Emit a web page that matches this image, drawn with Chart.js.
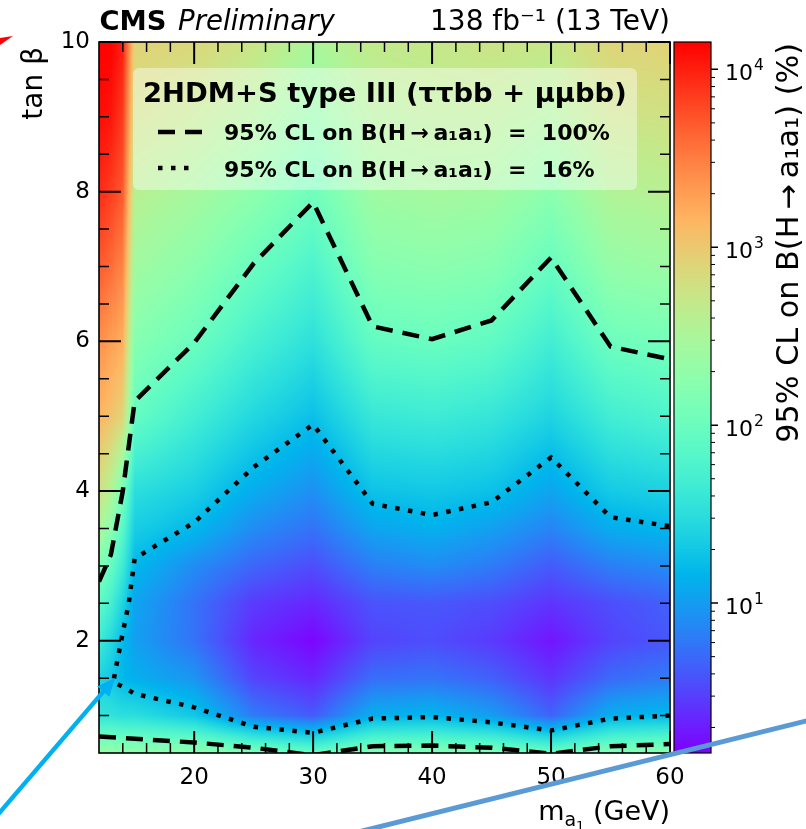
<!DOCTYPE html>
<html><head><meta charset="utf-8">
<script src="https://cdn.jsdelivr.net/npm/chart.js@4/dist/chart.umd.min.js"></script>
<style>html,body{margin:0;padding:0;background:#fff;overflow:hidden}canvas{display:block}</style>
</head><body>
<canvas id="c" width="806" height="829"></canvas>
<script>
// ---------------- data ----------------
const massGrid = [12, 13, 14, 15, 20, 25, 30, 35, 40, 45, 50, 55, 60];           // m_a1 (GeV)
const tanbGrid = [0.5, 1, 1.5, 2, 2.5, 3, 3.5, 4, 5, 6, 7, 8, 9, 10];            // tan beta
// log10 of the 95% CL limit on B(H->a1a1) in %, one array per mass column (rows follow tanbGrid)
const log10Lim_m12 = [2.35, 1.55, 1.40, 1.65, 1.90, 2.20, 2.50, 2.80, 3.15, 3.40, 3.70, 3.95, 4.10, 4.15];
const log10Lim_m13 = [2.33, 1.55, 1.30, 1.45, 1.70, 1.95, 2.25, 2.55, 3.05, 3.30, 3.60, 3.85, 4.05, 4.15];
const log10Lim_m14 = [2.32, 1.50, 1.18, 1.19, 1.40, 1.65, 1.85, 2.10, 2.90, 3.20, 3.45, 3.70, 3.85, 4.00];
const log10Lim_m15 = [2.30, 1.50, 1.12, 1.02, 1.05, 1.18, 1.35, 1.50, 1.95, 2.20, 2.42, 2.60, 2.78, 2.92];
const log10Lim_m20 = [2.30, 1.30, 0.95, 0.75, 0.75, 0.90, 1.18, 1.36, 1.68, 2.00, 2.24, 2.46, 2.68, 2.88];
const log10Lim_m25 = [2.15, 0.80, 0.50, 0.35, 0.45, 0.68, 0.90, 1.10, 1.43, 1.72, 1.99, 2.27, 2.52, 2.75];
const log10Lim_m30 = [1.98, 0.62, 0.35, 0.18, 0.35, 0.55, 0.75, 0.92, 1.24, 1.52, 1.77, 2.04, 2.28, 2.50];
const log10Lim_m35 = [2.20, 1.12, 0.72, 0.50, 0.58, 0.82, 1.05, 1.26, 1.60, 1.94, 2.20, 2.40, 2.55, 2.68];
const log10Lim_m40 = [2.20, 1.17, 0.75, 0.55, 0.60, 0.90, 1.13, 1.30, 1.65, 1.99, 2.25, 2.45, 2.60, 2.70];
const log10Lim_m45 = [2.15, 1.00, 0.65, 0.45, 0.55, 0.80, 1.02, 1.25, 1.58, 1.92, 2.20, 2.42, 2.60, 2.75];
const log10Lim_m50 = [2.00, 0.67, 0.42, 0.26, 0.42, 0.62, 0.85, 1.05, 1.40, 1.68, 1.97, 2.25, 2.50, 2.72];
const log10Lim_m55 = [2.20, 1.12, 0.70, 0.50, 0.55, 0.82, 1.10, 1.32, 1.68, 2.02, 2.32, 2.55, 2.75, 2.90];
const log10Lim_m60 = [2.25, 1.20, 0.80, 0.60, 0.65, 0.90, 1.18, 1.38, 1.78, 2.08, 2.38, 2.60, 2.78, 2.92];

// contour: 95% CL on B = 100% (dashed), two branches
const c100hi_x = [12, 13, 14, 15, 20, 25, 30, 35, 40, 45, 50, 55, 60];
const c100hi_y = [2.79, 3.15, 4.00, 5.20, 5.98, 7.04, 7.86, 6.20, 6.03, 6.28, 7.12, 5.93, 5.76];
const c100lo_x = [12, 15, 20, 25, 30, 35, 40, 45, 50, 55, 60];
const c100lo_y = [0.72, 0.69, 0.64, 0.57, 0.47, 0.59, 0.60, 0.57, 0.49, 0.59, 0.62];
// contour: 95% CL on B = 16% (dotted)
const c16_x = [60, 55, 50, 45, 40, 35, 30, 25, 20, 15, 14.3, 13.2, 13.8, 14.5, 15, 20, 25, 30, 35, 40, 45, 50, 55, 60];
const c16_y = [1.00, 0.96, 0.80, 0.91, 0.98, 0.96, 0.77, 0.85, 1.11, 1.29, 1.36, 1.45, 1.95, 2.50, 3.10, 3.58, 4.32, 4.89, 3.83, 3.68, 3.85, 4.45, 3.65, 3.53];

const xTicks = [20, 30, 40, 50, 60];
const xMinorTicks = [14, 16, 18, 22, 24, 26, 28, 32, 34, 36, 38, 42, 44, 46, 48, 52, 54, 56, 58];
const yTicks = [2, 4, 6, 8, 10];
const yMinorTicks = [1, 1.5, 2.5, 3, 3.5, 4.5, 5, 5.5, 6.5, 7, 7.5, 8.5, 9, 9.5];
const cbTicks = [10, 100, 1000, 10000];
const cbExponents = ['1', '2', '3', '4'];
const cbMin = 1.437, cbMax = 14240;

const legendTitle = '2HDM+S type III (\u03c4\u03c4bb + \u03bc\u03bcbb)';
const legendEntries = ['95% CL on B(H\u2009\u2192\u2009a\u2081a\u2081)  =  100%', '95% CL on B(H\u2009\u2192\u2009a\u2081a\u2081)  =  16%'];

// ---------------- helpers ----------------
const FONT = "'DejaVu Sans', sans-serif";
const limCols = [log10Lim_m12, log10Lim_m13, log10Lim_m14, log10Lim_m15, log10Lim_m20, log10Lim_m25,
  log10Lim_m30, log10Lim_m35, log10Lim_m40, log10Lim_m45, log10Lim_m50, log10Lim_m55, log10Lim_m60];
const pts = (xs, ys) => xs.map((v, i) => ({x: v, y: ys[i]}));
function rainbow(t) {
  t = Math.max(0, Math.min(1, t));
  return [Math.min(1, Math.abs(2 * t - 0.5)) * 255, Math.sin(Math.PI * t) * 255, Math.cos(Math.PI * t / 2) * 255];
}
function segIdx(arr, v) {
  let k = 0;
  while (k < arr.length - 2 && v > arr[k + 1]) k++;
  return k;
}
const noPad = s => { s.paddingTop = 0; s.paddingBottom = 0; s.paddingLeft = 0; s.paddingRight = 0; };

// heat map drawn through the x / y scales, coloured through the colour-bar scale
const heatmapPlugin = {
  id: 'heatmap',
  beforeDatasetsDraw(chart) {
    const {ctx, chartArea: a, scales: {x, y, cb}} = chart;
    const L = Math.round(a.left), T = Math.round(a.top);
    const W = Math.round(a.right) - L, H = Math.round(a.bottom) - T;
    const off = document.createElement('canvas'); off.width = W; off.height = H;
    const octx = off.getContext('2d');
    const img = octx.createImageData(W, H);
    const xi = [], xf = [];
    for (let i = 0; i < W; i++) {
      const v = x.getValueForPixel(L + i + 0.5);
      const k = segIdx(massGrid, v);
      xi.push(k); xf.push(Math.max(0, Math.min(1, (v - massGrid[k]) / (massGrid[k + 1] - massGrid[k]))));
    }
    const span = cb.bottom - cb.top;
    for (let j = 0; j < H; j++) {
      const v = y.getValueForPixel(T + j + 0.5);
      const k = segIdx(tanbGrid, v);
      const f = Math.max(0, Math.min(1, (v - tanbGrid[k]) / (tanbGrid[k + 1] - tanbGrid[k])));
      for (let i = 0; i < W; i++) {
        const c0 = limCols[xi[i]], c1 = limCols[xi[i] + 1], g = xf[i];
        const a0 = c0[k] * (1 - g) + c1[k] * g;
        const a1 = c0[k + 1] * (1 - g) + c1[k + 1] * g;
        const lv = a0 * (1 - f) + a1 * f;
        const t = (cb.bottom - cb.getPixelForValue(Math.pow(10, lv))) / span;
        const c = rainbow(t);
        const p = (j * W + i) * 4;
        img.data[p] = c[0]; img.data[p + 1] = c[1]; img.data[p + 2] = c[2]; img.data[p + 3] = 255;
      }
    }
    octx.putImageData(img, 0, 0);
    ctx.drawImage(off, L, T);
  }
};

function fitFont(ctx, text, weight, style, targetW) {
  ctx.font = `${style} ${weight} 100px ${FONT}`;
  return 100 * targetW / ctx.measureText(text).width;
}

const decorPlugin = {
  id: 'decor',
  afterDatasetsDraw(chart) {
    const {ctx, chartArea: a, scales: {x, y}} = chart;
    ctx.save();
    ctx.strokeStyle = '#000';
    const tick = (len, lw, vals, axis) => {
      ctx.lineWidth = lw;
      ctx.beginPath();
      vals.forEach(v => {
        if (axis === 'x') {
          const p = x.getPixelForValue(v);
          ctx.moveTo(p, a.bottom); ctx.lineTo(p, a.bottom - len);
          ctx.moveTo(p, a.top); ctx.lineTo(p, a.top + len);
        } else {
          const p = y.getPixelForValue(v);
          ctx.moveTo(a.left, p); ctx.lineTo(a.left + len, p);
          ctx.moveTo(a.right, p); ctx.lineTo(a.right - len, p);
        }
      });
      ctx.stroke();
    };
    tick(22, 2, xTicks, 'x'); tick(10, 1.5, xMinorTicks, 'x');
    tick(22, 2, yTicks, 'y'); tick(10, 1.5, yMinorTicks, 'y');
    ctx.lineWidth = 1.6;
    ctx.strokeRect(a.left, a.top, a.right - a.left, a.bottom - a.top);
    ctx.restore();
  },
  afterDraw(chart) {
    const {ctx, chartArea: a, scales: {cb}} = chart;
    ctx.save();
    // ---- colour bar
    const bx0 = cb.left + 4, bx1 = cb.left + 41;
    const span = cb.bottom - cb.top;
    for (let py = Math.floor(cb.top); py < cb.bottom; py++) {
      const c = rainbow((cb.bottom - (py + 0.5)) / span);
      ctx.fillStyle = `rgb(${c[0] | 0},${c[1] | 0},${c[2] | 0})`;
      ctx.fillRect(bx0, py, bx1 - bx0, 1);
    }
    ctx.strokeStyle = '#000'; ctx.lineWidth = 1.2;
    ctx.strokeRect(bx0, cb.top, bx1 - bx0, span);
    ctx.beginPath(); ctx.lineWidth = 1.5;
    cbTicks.forEach(v => { const p = cb.getPixelForValue(v); ctx.moveTo(bx1, p); ctx.lineTo(bx1 + 7, p); });
    ctx.stroke();
    ctx.beginPath(); ctx.lineWidth = 1;
    for (let e = 0; e <= 4; e++) for (let m = 2; m <= 9; m++) {
      const v = m * Math.pow(10, e);
      if (v < cbMin || v > cbMax) continue;
      const p = cb.getPixelForValue(v); ctx.moveTo(bx1, p); ctx.lineTo(bx1 + 4, p);
    }
    ctx.stroke();
    // colour-bar tick labels 10^k
    ctx.fillStyle = '#000'; ctx.textAlign = 'left'; ctx.textBaseline = 'alphabetic';
    cbTicks.forEach((v, i) => {
      const p = cb.getPixelForValue(v);
      ctx.font = `22px ${FONT}`;
      ctx.fillText('10', 725, p + 11);
      const w = ctx.measureText('10').width;
      ctx.font = `15.5px ${FONT}`;
      ctx.fillText(cbExponents[i], 725 + w + 1, p + 1);
    });

    // ---- legend box
    const lx0 = 133, ly0 = 68, lx1 = 637, ly1 = 190;
    ctx.fillStyle = 'rgba(255,255,255,0.42)';
    ctx.beginPath(); ctx.roundRect(lx0, ly0, lx1 - lx0, ly1 - ly0, 6); ctx.fill();
    ctx.fillStyle = '#000';
    let fs = fitFont(ctx, legendTitle, 'bold', 'normal', 484);
    ctx.font = `bold ${fs}px ${FONT}`;
    ctx.fillText(legendTitle, 143, 101.5);
    fs = fitFont(ctx, legendEntries[0], 'bold', 'normal', 386);
    ctx.font = `bold ${fs}px ${FONT}`;
    ctx.fillText(legendEntries[0], 224, 140);
    ctx.fillText(legendEntries[1], 224, 176.5);
    ctx.strokeStyle = '#000'; ctx.lineCap = 'butt';
    ctx.lineWidth = 4.5; ctx.setLineDash([17, 10]);
    ctx.beginPath(); ctx.moveTo(158, 132); ctx.lineTo(202, 132); ctx.stroke();
    ctx.setLineDash([4.5, 8.5]);
    ctx.beginPath(); ctx.moveTo(158, 168); ctx.lineTo(194, 168); ctx.stroke();
    ctx.setLineDash([]);

    // ---- header
    ctx.fillStyle = '#000';
    fs = fitFont(ctx, 'CMS', 'bold', 'normal', 67);
    ctx.font = `bold ${fs}px ${FONT}`;
    ctx.fillText('CMS', 99.5, 30);
    fs = fitFont(ctx, 'Preliminary', 'normal', 'italic', 157);
    ctx.font = `italic ${fs}px ${FONT}`;
    ctx.fillText('Preliminary', 178, 30);
    const lumi = '138 fb\u207b\u00b9 (13 TeV)';
    fs = fitFont(ctx, lumi, 'normal', 'normal', 240);
    ctx.font = `${fs}px ${FONT}`;
    ctx.textAlign = 'right';
    ctx.fillText(lumi, a.right, 30);

    // ---- x title  m_{a_1} (GeV), right aligned
    ctx.textAlign = 'left';
    const parts = [['m', 27, 0], ['a', 19, 6], ['1', 13, 10], [' (GeV)', 27, 0]];
    let tw = 0;
    parts.forEach(p => { ctx.font = `${p[1]}px ${FONT}`; tw += ctx.measureText(p[0]).width; });
    let cx = a.right - tw;
    parts.forEach(p => { ctx.font = `${p[1]}px ${FONT}`; ctx.fillText(p[0], cx, 820 + p[2]); cx += ctx.measureText(p[0]).width; });

    // ---- y title tan beta (rotated, top aligned)
    ctx.save();
    ctx.translate(42, 47); ctx.rotate(-Math.PI / 2);
    ctx.textAlign = 'right'; ctx.font = `28px ${FONT}`;
    ctx.fillText('tan \u03b2', 0, 0);
    ctx.restore();

    // ---- colour-bar title
    const cbt = '95% CL on B(H\u2009\u2192\u2009a\u2081a\u2081) (%)';
    fs = fitFont(ctx, cbt, 'normal', 'normal', 400);
    ctx.save();
    ctx.translate(798, 43); ctx.rotate(-Math.PI / 2);
    ctx.textAlign = 'right'; ctx.font = `${fs}px ${FONT}`;
    ctx.fillText(cbt, 0, 0);
    ctx.restore();

    // ---- overlay annotations
    ctx.fillStyle = '#ff0000';
    ctx.beginPath(); ctx.moveTo(0, 38); ctx.lineTo(13, 36); ctx.lineTo(0, 45); ctx.closePath(); ctx.fill();
    ctx.strokeStyle = '#00b0f0'; ctx.fillStyle = '#00b0f0'; ctx.lineWidth = 4.5;
    const tip = [115, 678], tail = [-5, 818];
    const dx = tip[0] - tail[0], dy = tip[1] - tail[1], dl = Math.hypot(dx, dy);
    const ux = dx / dl, uy = dy / dl;
    const bxh = tip[0] - 18 * ux, byh = tip[1] - 18 * uy;
    ctx.beginPath(); ctx.moveTo(tail[0], tail[1]); ctx.lineTo(bxh + 2 * ux, byh + 2 * uy); ctx.stroke();
    ctx.beginPath(); ctx.moveTo(tip[0], tip[1]);
    ctx.lineTo(bxh - 8 * uy, byh + 8 * ux); ctx.lineTo(bxh + 8 * uy, byh - 8 * ux); ctx.closePath(); ctx.fill();
    ctx.strokeStyle = '#5b9bd5'; ctx.lineWidth = 5;
    ctx.beginPath(); ctx.moveTo(340, 836.5); ctx.lineTo(810, 720); ctx.stroke();
    ctx.restore();
  }
};

const lineDs = (label, data, dash) => ({
  label, data, showLine: true, borderColor: '#000', backgroundColor: '#000', borderWidth: 4.5,
  borderDash: dash, borderCapStyle: 'butt', borderJoinStyle: 'miter', pointRadius: 0, pointHoverRadius: 0,
  tension: 0, clip: 0, xAxisID: 'x', yAxisID: 'y'
});

new Chart(document.getElementById('c'), {
  type: 'scatter',
  data: {
    datasets: [
      lineDs('95% CL on B = 100% (upper)', pts(c100hi_x, c100hi_y), [17, 10]),
      lineDs('95% CL on B = 100% (lower)', pts(c100lo_x, c100lo_y), [17, 10]),
      lineDs('95% CL on B = 16%', pts(c16_x, c16_y), [4.5, 8.5])
    ]
  },
  options: {
    responsive: false, animation: false, devicePixelRatio: 1,
    layout: {padding: {top: 42, left: 0, right: 0, bottom: 0}},
    plugins: {legend: {display: false}, tooltip: {enabled: false}},
    scales: {
      x: {
        type: 'linear', position: 'bottom', min: 12, max: 60,
        grid: {display: false, drawTicks: false}, border: {display: false},
        afterBuildTicks: s => { s.ticks = xTicks.map(v => ({value: v})); },
        afterFit: s => { s.height = 76; noPad(s); },
        ticks: {font: {family: FONT, size: 23}, color: '#000', padding: 11, maxRotation: 0, autoSkip: false}
      },
      y: {
        type: 'linear', position: 'left', min: 0.5, max: 10,
        grid: {display: false, drawTicks: false}, border: {display: false},
        afterBuildTicks: s => { s.ticks = yTicks.map(v => ({value: v})); },
        afterFit: s => { s.width = 99; noPad(s); },
        ticks: {font: {family: FONT, size: 23}, color: '#000', padding: 9, autoSkip: false}
      },
      cb: {
        type: 'logarithmic', position: 'right', min: cbMin, max: cbMax,
        grid: {display: false, drawTicks: false}, border: {display: false},
        afterBuildTicks: s => { s.ticks = cbTicks.map(v => ({value: v})); },
        afterFit: s => { s.width = 136; noPad(s); },
        ticks: {display: false}
      }
    }
  },
  plugins: [heatmapPlugin, decorPlugin]
});
</script>
</body></html>
